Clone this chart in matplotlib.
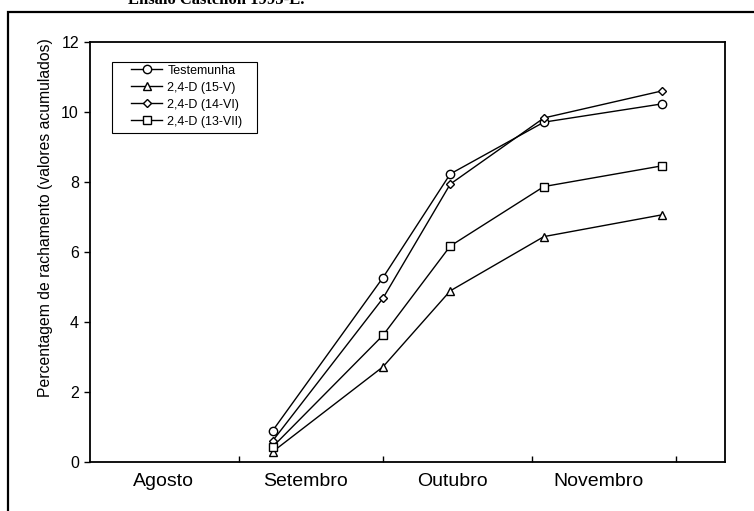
#!/usr/bin/env python3
"""
Accumulated cracking percentage by treatment (Castellon trial).
"""

import matplotlib
matplotlib.use('Agg')
import matplotlib.pyplot as plt
import matplotlib.patches as patches

plt.rcParams['font.family'] = ['Liberation Sans', 'DejaVu Sans']

# Data (x in days counted from 1 August)
days = [38, 61, 75, 94.5, 119]
testemunha = [0.89, 5.27, 8.23, 9.71, 10.23]
d15v = [0.29, 2.72, 4.89, 6.44, 7.06]
d14vi = [0.60, 4.68, 7.94, 9.83, 10.60]
d13vii = [0.43, 3.62, 6.17, 7.87, 8.46]

month_edges = [31, 61, 92, 122]
month_mids = [15.2, 44.8, 75.4, 105.8]
month_names = ['Agosto', 'Setembro', 'Outubro', 'Novembro']

fig = plt.figure(figsize=(7.54, 5.11), dpi=100)
ax = fig.add_axes([90/754, 49/511, 635/754, 420/511])

style = dict(color='black', lw=1.0, markerfacecolor='white',
             markeredgecolor='black', markeredgewidth=1.0)
ax.plot(days, testemunha, marker='o', ms=6, label='Testemunha', **style)
ax.plot(days, d15v, marker='^', ms=6, label='2,4-D (15-V)', **style)
ax.plot(days, d14vi, marker='D', ms=4.5, label='2,4-D (14-VI)', **style)
ax.plot(days, d13vii, marker='s', ms=6, label='2,4-D (13-VII)', **style)

ax.set_xlim(0, 132.2)
ax.set_ylim(0, 12)
ax.set_yticks(range(0, 13, 2))
ax.tick_params(axis='y', direction='out', length=4, width=1, labelsize=11.5, pad=4)

ax.set_xticks(month_edges)
ax.set_xticklabels([])
ax.set_xticks(month_mids, minor=True)
ax.set_xticklabels(month_names, minor=True, fontsize=14)
ax.tick_params(axis='x', which='major', direction='in', length=4, width=1)
ax.tick_params(axis='x', which='minor', length=0, pad=8)

for s in ax.spines.values():
    s.set_linewidth(1.3)

ax.set_ylabel('Percentagem de rachamento (valores acumulados)', fontsize=11.3)
ax.yaxis.set_label_coords(-0.058, 0.581)

# legend without its own frame; the box is drawn separately, wider than the text
leg = ax.legend(loc='upper left', bbox_to_anchor=((135 - 90) / 635 - 0.012, (462 - 61) / 420),
                borderaxespad=0, fontsize=9, handlelength=2.5, handletextpad=0.4,
                labelspacing=0.4, borderpad=0.3, frameon=False)
ax.add_patch(patches.Rectangle(((112 - 90) / 635, (462 - 133) / 420),
                               145 / 635, 71 / 420, transform=ax.transAxes,
                               fill=False, edgecolor='black', linewidth=0.8,
                               zorder=5))

# outer frame, cut by the image edges
fig.patches.append(patches.Rectangle((8/754, -0.1), 1.1, 1 - 12/511 + 0.1,
                                     transform=fig.transFigure, fill=False,
                                     edgecolor='black', linewidth=1.6))

# title, mostly cropped off the top
fig.text(128/754, 1 - 4/511, 'Ensaio Castellón 1995-E.', va='baseline', ha='left',
         family='Liberation Serif', weight='bold', fontsize=12)

fig.savefig('out.png', dpi=100, facecolor='white')
